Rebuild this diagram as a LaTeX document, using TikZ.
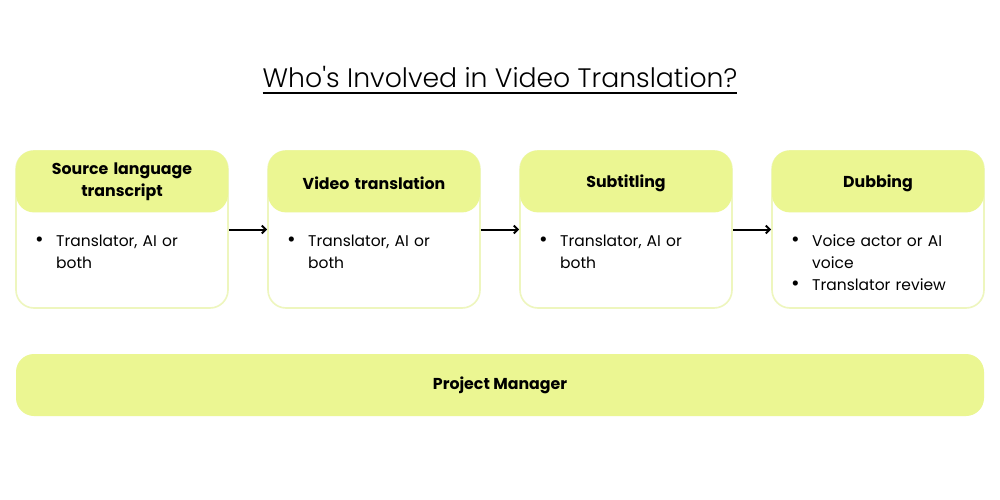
\documentclass[tikz,border=0pt]{standalone}
\usepackage{fontspec}
\setmainfont{Poppins}
\newfontfamily\lightfont{Poppins Light}
\usetikzlibrary{arrows.meta}
\definecolor{lime}{RGB}{235,246,146}
\definecolor{limeline}{RGB}{238,246,190}
\newcommand{\bitem}[1]{\par\hangindent=21pt\hangafter=1\noindent\makebox[21pt][l]{\scalebox{1.35}{\textbullet}}#1\par}
\newcommand{\lowertext}[1]{\raisebox{-2pt}[\height][\depth]{#1}}
\begin{document}
\begin{tikzpicture}[x=1pt,y=-1pt,
  card/.style={draw=limeline, line width=1.6pt, rounded corners=18pt, minimum width=212pt, minimum height=157pt, inner sep=0pt, fill=white},
  head/.style={fill=lime, rounded corners=18pt, minimum width=212pt, minimum height=62pt, inner sep=0pt, text width=200pt, align=center, font=\bfseries\fontsize{15.8}{22}\selectfont},
  body/.style={anchor=north west, inner sep=0pt, text width=172pt, align=left, font=\fontsize{15.5}{22}\selectfont},
  flow/.style={line width=2pt, -{Straight Barb[length=4pt,width=8pt]}},
  bar/.style={fill=lime, rounded corners=18pt, minimum width=968pt, minimum height=62pt, inner sep=0pt, font=\bfseries\fontsize{15.8}{20}\selectfont}
]
\useasboundingbox[fill=white] (0,0) rectangle (1000,500);

\node[font=\lightfont\fontsize{26.7}{32}\selectfont, inner sep=0pt, anchor=base] (title) at (500,88) {Who's Involved in Video Translation?};
\draw[line width=1.8pt] ([yshift=-5pt]title.base west) -- ([yshift=-5pt]title.base east);

\node[card] (c1) at (122,229.5) {};
\node[card] (c2) at (374,229.5) {};
\node[card] (c3) at (626,229.5) {};
\node[card] (c4) at (878,229.5) {};

\node[head, anchor=north] (h1) at (c1.north) {Source language\\transcript};
\node[head, anchor=north] (h2) at (c2.north) {\lowertext{Video translation}};
\node[head, anchor=north] (h3) at (c3.north) {\lowertext{Subtitling}};
\node[head, anchor=north] (h4) at (c4.north) {\lowertext{Dubbing}};

\node[body] (b1) at (35,224) {\bitem{Translator, AI or both}};
\node[body] (b2) at (287,224) {\bitem{Translator, AI or both}};
\node[body] (b3) at (539,224) {\bitem{Translator, AI or both}};
\node[body] (b4) at (791,224) {\bitem{Voice actor or AI voice}\bitem{Translator review}};

\draw[flow] (c1) -- (c2);
\draw[flow] (c2) -- (c3);
\draw[flow] (c3) -- (c4);

\node[bar] (pm) at (500,385) {Project Manager};
\end{tikzpicture}
\end{document}
